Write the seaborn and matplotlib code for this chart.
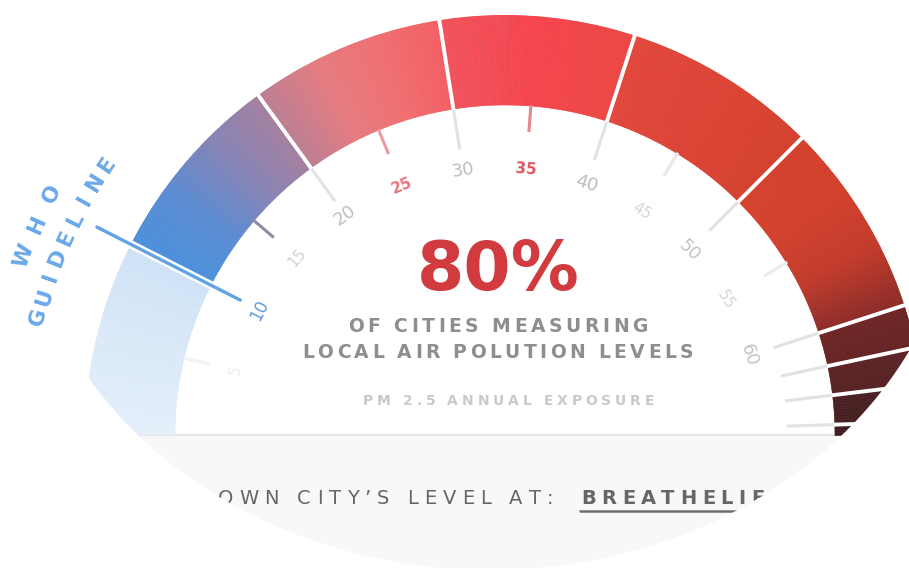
import numpy as np
import matplotlib
matplotlib.use("Agg")
import matplotlib.pyplot as plt
import seaborn as sns
from matplotlib.patches import PathPatch, Rectangle
from matplotlib.path import Path
from matplotlib.font_manager import FontProperties

# --- data -------------------------------------------------------------
band_edges = [0, 10, 20, 30, 40, 50, 60, 62.2, 64.1, 66.0, 66.67]
band_colors = [
    ["#e4effa", "#dbe9f8", "#cfe2f6"],
    ["#4a90dc", "#5a8bd2", "#8583b6", "#a57f9e"],
    ["#bb7e93", "#e47b80", "#f06f70", "#f35d62"],
    ["#f1525c", "#f4444d", "#ec4642"],
    ["#e2463b", "#dc4334", "#d5402e"],
    ["#d5402c", "#d23f2b", "#c23a2a", "#8a2a27"],
    ["#6e2424", "#652323"],
    ["#5c2223", "#552123"],
    ["#4a1f21", "#441e20"],
    ["#3d1c1e", "#3d1c1e"],
]
label_values = [5, 10, 15, 20, 25, 30, 35, 40, 45, 50, 55, 60]
label_text = ["5", "10", "15", "20", "25", "30", "35", "40", "45", "50", "55", "60"]
label_colors = ["#efefef", "#5d9de0", "#d2d2d2", "#bdbdbd", "#e9747c", "#bdbdbd",
                "#e05460", "#bdbdbd", "#d6d6d6", "#c4c4c4", "#d6d6d6", "#c4c4c4"]
tick_values = [5, 15, 20, 25, 30, 35, 40, 45, 50, 55, 60, 62.2, 64.1, 66.0]
tick_colors = ["#f2f2f2", "#8e8ea0", "#e2e2e2", "#ec9aa2", "#e2e2e2", "#e8868e", "#e2e2e2",
               "#e8e8e8", "#e2e2e2", "#ececec", "#e2e2e2", "#e2e2e2", "#e2e2e2", "#e2e2e2"]
who_value = 10
headline = "80%"
line1 = "OF CITIES MEASURING"
line2 = "LOCAL AIR POLUTION LEVELS"
line3 = "PM 2.5 ANNUAL EXPOSURE"
footer = "OWN CITY\u2019S LEVEL AT:"
link = "BREATHELIFE"

SCALE_MAX = 200 / 3          # half circle
CX, CY = 505, 435            # gauge centre (px)
R_IN, R_OUT = 330, 420

sns.set_theme(style="white")
plt.rcParams["font.family"] = ["DejaVu Sans"]

W, H = 909, 568
fig = plt.figure(figsize=(W / 100, H / 100), dpi=100)
renderer = fig.canvas.get_renderer()

bg = fig.add_axes([0, 0, 1, 1], zorder=0)
bg.set_xlim(0, W); bg.set_ylim(H, 0); bg.set_axis_off()

pax = fig.add_axes([(CX - R_OUT) / W, (H - CY - R_OUT) / H, 2 * R_OUT / W, 2 * R_OUT / H],
                   projection="polar", zorder=1)
pax.set_theta_zero_location("W")
pax.set_theta_direction(-1)
pax.set_axis_off()
pax.patch.set_visible(False)

top = fig.add_axes([0, 0, 1, 1], zorder=2)
top.set_xlim(0, W); top.set_ylim(H, 0); top.set_axis_off()
top.patch.set_visible(False)


def th(v):
    return np.deg2rad(np.asarray(v) * 180 / SCALE_MAX)


# gradient band
step = 0.1
for (v0, v1), cols in zip(zip(band_edges[:-1], band_edges[1:]), band_colors):
    cmap = sns.blend_palette(cols, as_cmap=True)
    vs = np.arange(v0, v1, step)
    c = [cmap((v - v0) / (v1 - v0)) for v in vs]
    pax.bar(th(vs), R_OUT - R_IN, width=th(step) * 1.05, bottom=R_IN, align="edge",
            color=c, edgecolor=c, linewidth=0.4)

# ticks inside
for v, col in zip(tick_values, tick_colors):
    r0 = 289 if v in band_edges else 304
    if v > 59:
        r0 = 282
    pax.plot([th(v), th(v)], [r0, R_IN + 1], color=col, lw=2.2, solid_capstyle="butt")

# separators
for v in band_edges[2:-1]:
    pax.plot([th(v), th(v)], [R_IN - 1, R_OUT + 2], color="white", lw=2.8,
             solid_capstyle="butt", clip_on=False)

# WHO guideline
pax.plot([th(who_value)] * 2, [R_IN - 1, R_OUT + 2], color="white", lw=6,
         solid_capstyle="butt", clip_on=False)
pax.plot([th(who_value)] * 2, [297, 458], color="#62a3e4", lw=2.4,
         solid_capstyle="round", clip_on=False)

# scale labels
for v, s, col in zip(label_values, label_text, label_colors):
    ten = v % 10 == 0
    size = 13 if ten else 11
    weight = "bold" if v in (25, 35) else "normal"
    if v == 10:
        size = 12
    r = 279 - 0.37 * v
    pax.text(th(v), r, s, rotation=90 - v * 180 / SCALE_MAX, rotation_mode="anchor",
             ha="center", va="center", fontsize=size, color=col, fontweight=weight)

# bottom grey panel
bg.add_patch(Rectangle((0, CY), W, H - CY, facecolor="#f8f8f8", edgecolor="none"))
bg.plot([0, W], [CY, CY], color="#e3e3e3", lw=1.5)


def tracked(ax, s, y, x0, x1=None, gap=0.0, size=12, weight="normal", color="k"):
    fp = FontProperties(family="DejaVu Sans", size=size, weight=weight)
    px = size * fig.dpi / 72
    ws = [0.32 * px if ch == " " else
          renderer.get_text_width_height_descent(ch, fp, ismath=False)[0] for ch in s]
    if x1 is not None:
        gap = (x1 - x0 - sum(ws)) / (len(s) - 1)
    x = x0
    for ch, w in zip(s, ws):
        if ch != " ":
            ax.text(x, y, ch, fontproperties=fp, color=color, ha="left", va="baseline")
        x += w + gap
    return x


bg.text(498, 290, headline, ha="center", va="baseline", fontsize=49,
        fontweight="bold", color="#d13b3f")
tracked(bg, line1, 332, 348, 648, size=13.5, weight="bold", color="#8e8e8e")
tracked(bg, line2, 358, 302, 693, size=13.5, weight="bold", color="#8e8e8e")
tracked(bg, line3, 405, 363, 654, size=10, weight="bold", color="#c9c9c9")
tracked(bg, footer, 504, 218, 553, size=14, weight="normal", color="#666666")
tracked(bg, link, 504, 581, gap=5.5, size=14, weight="bold", color="#666666")
bg.plot([580, 820], [511, 511], color="#6e6e6e", lw=1.8)

# elliptical crop of the screenshot
t = np.linspace(0, 2 * np.pi, 300)[::-1]
ex, ey = 490 + 470 * np.cos(t), 170 + 400 * np.sin(t)
rect = [(-20, -20), (W + 20, -20), (W + 20, H + 20), (-20, H + 20), (-20, -20)]
verts = rect + list(zip(ex, ey)) + [(ex[0], ey[0])]
codes = ([Path.MOVETO] + [Path.LINETO] * 3 + [Path.CLOSEPOLY] +
         [Path.MOVETO] + [Path.LINETO] * (len(ex) - 1) + [Path.CLOSEPOLY])
top.add_patch(PathPatch(Path(verts, codes), facecolor="white", edgecolor="none"))

# WHO GUIDELINE curved label
for word, r, a0, da in (("WHO", 513, 159.6, -3.8), ("GUIDELINE", 481, 165.8, -2.5)):
    for i, ch in enumerate(word):
        a = a0 + da * i
        v = (180 - a) * SCALE_MAX / 180
        top.text(th(v), r, ch, transform=pax.transData, rotation=a - 90,
                 rotation_mode="anchor", ha="center", va="center",
                 fontsize=15.5, fontweight="bold", color="#6aa8e8")

pax.set_ylim(0, R_OUT)
fig.savefig("out.png", dpi=100)
